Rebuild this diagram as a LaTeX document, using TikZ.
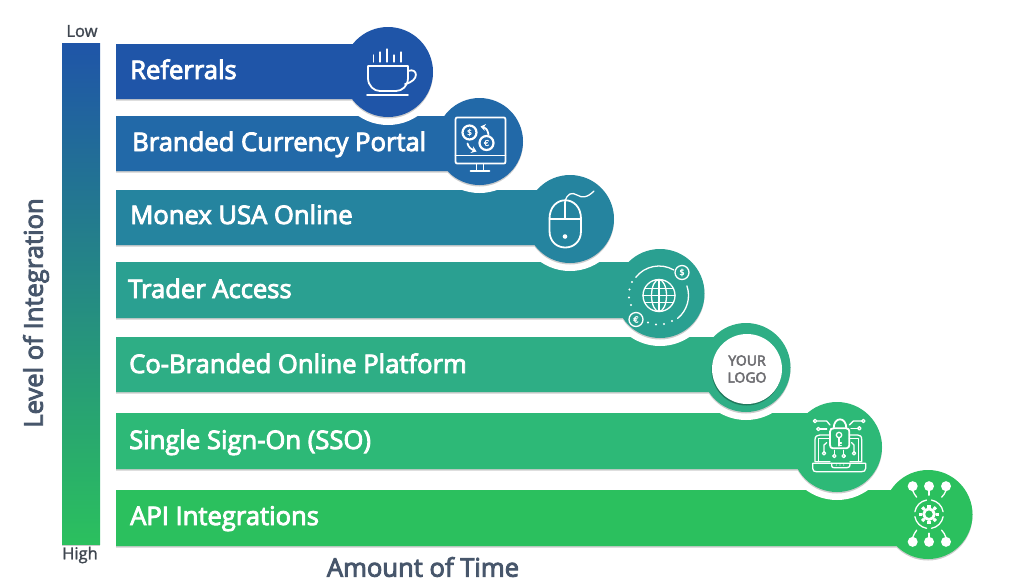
\documentclass[tikz,border=0pt]{standalone}
\usepackage{fontspec}
\setmainfont{Open Sans}
\newfontfamily\semi{Open Sans}[FakeBold=3.5]
\newfontfamily\medi{Open Sans}[FakeBold=1.5]
\newfontfamily\glyphs{DejaVu Sans}[FakeBold=2]
\usetikzlibrary{shadows,arrows.meta}
\definecolor{cA}{HTML}{1F55A8}
\definecolor{cB}{HTML}{2269A8}
\definecolor{cC}{HTML}{25849F}
\definecolor{cD}{HTML}{2AA091}
\definecolor{cE}{HTML}{2EAE85}
\definecolor{cF}{HTML}{2DB977}
\definecolor{cG}{HTML}{2BC05E}
\definecolor{axisink}{HTML}{47566B}
\definecolor{lightink}{HTML}{3F4650}
\definecolor{logoink}{HTML}{6E6E72}
\tikzset{
  softshadow/.style={drop shadow={shadow xshift=0pt,shadow yshift=-1.5pt,opacity=.2,fill=black}},
  rowlabel/.style={anchor=base west,text=white,inner sep=0pt,font=\semi\fontsize{25.6}{28}\selectfont},
  axislabel/.style={text=axisink,inner sep=0pt,font=\semi\fontsize{25.6}{28}\selectfont},
  endlabel/.style={text=lightink,inner sep=0pt,font=\medi\fontsize{16.5}{18}\selectfont},
  ico/.style={draw=white,line width=1.8pt,line cap=round,line join=round},
  icofine/.style={draw=white,line width=1.3pt,line cap=round,line join=round},
  icodot/.style={fill=white,draw=none},
  coin/.style={text=white,inner sep=0pt,font=\glyphs\fontsize{8.5}{9}\selectfont},
}
% colour, bar top, bar bottom, disc centre x, disc centre y, disc radius
\newcommand{\stepshape}[6]{%
  \fill[white] (#4,#5) circle ({#6+8});
  \fill[#1,softshadow] (#4,#2) rectangle (116,#3) (#4,#5) circle (#6);
}
\begin{document}
\begin{tikzpicture}[x=1pt,y=-1pt]
\useasboundingbox (0,0) rectangle (1024,587);

% axis bar and labels
\node[draw=none,inner sep=0pt,outer sep=0pt,anchor=north west,minimum width=38pt,minimum height=501pt,
      top color=cA,middle color=cD,bottom color=cG,shading angle=0,softshadow] (axisbar) at (62,43) {};
\node[endlabel] (low) at (82,31) {Low};
\node[endlabel] (high) at (80,555) {High};
\node[axislabel,rotate=90] (level) at (36,313) {Level of Integration};
\node[axislabel] (amount) at (423,567) {Amount of Time};

% ---- row 7
\stepshape{cG}{490}{546}{928}{514.5}{44.5}
\node[rowlabel] (t7) at (130,525) {API Integrations};
\begin{scope}[shift={(928,514.5)},scale=1/3]
  \foreach \px in {-46,3,54} \fill[icodot] (\px,-85) circle (15);
  \foreach \px in {-46,3,54} \fill[icodot] (\px,82) circle (15);
  \draw[icofine] (-46,-72) .. controls (-46,-62) and (-36,-60) .. (-34,-52);
  \draw[icofine] (3,-72) -- (3,-58);
  \draw[icofine] (54,-72) .. controls (54,-62) and (44,-60) .. (41,-52);
  \draw[icofine] (-34,47) .. controls (-36,56) and (-46,58) .. (-46,69);
  \draw[icofine] (3,56) -- (3,69);
  \draw[icofine] (41,47) .. controls (44,56) and (54,58) .. (54,69);
  \draw[icofine] (3,-1) ++(100:43) arc (100:170:43);
  \draw[icofine] (3,-1) ++(10:43) arc (10:80:43);
  \draw[icofine] (3,-1) ++(190:43) arc (190:260:43);
  \draw[icofine] (3,-1) ++(280:43) arc (280:350:43);
  \draw[draw=white,line width=2.8pt] (3,-1) circle (16);
  \foreach \a in {0,45,...,315}
    \draw[draw=white,line width=3.2pt] (3,-1) ++(\a:20) -- ++(\a:9);
\end{scope}

% ---- row 6
\stepshape{cF}{413}{469}{837}{447}{45}
\node[rowlabel] (t6) at (129,449) {Single Sign-On (SSO)};
\begin{scope}[shift={(837,447)},scale=1/3]
  % laptop
  \draw[icofine] (-21,44) -- (-66,44) -- (-66,-22) .. controls (-66,-32) and (-60,-36) .. (-52,-36) -- (-21,-36);
  \draw[icofine] (37,-36) -- (62,-36) .. controls (70,-36) and (74,-32) .. (74,-22) -- (74,44) -- (39,44);
  \draw[icofine] (-56,44) -- (-56,-26) -- (-21,-26);
  \draw[icofine] (37,-26) -- (64,-26) -- (64,44);
  \draw[icofine] (-73,49) -- (86,49) -- (86,64) .. controls (86,72) and (80,74) .. (74,74) -- (-62,74) .. controls (-68,74) and (-73,72) .. (-73,64) -- cycle;
  \draw[icofine] (-16,49) -- (-16,56) .. controls (-16,62) and (-12,62) .. (-8,62) -- (30,62) .. controls (36,62) and (39,60) .. (39,49);
  \foreach \px in {-2,9,20} \fill[icodot] (\px,54) circle (1.8);
  % lock
  \draw[ico] (-10,-56) .. controls (-10,-92) and (28,-92) .. (28,-56);
  \draw[ico] (-21,-46) .. controls (-21,-54) and (-16,-56) .. (-10,-56) -- (28,-56) .. controls (34,-56) and (37,-52) .. (37,-46) -- (37,-6) .. controls (37,-2) and (34,4) .. (28,4) -- (-12,4) .. controls (-18,4) and (-21,0) .. (-21,-6) -- cycle;
  \draw[icofine] (6,-36) circle (8);
  \draw[icofine] (6,-28) -- (6,-3) (6,-12) -- (13,-12) (6,-5) -- (13,-5);
  % circuit top
  \draw[icofine] (-66,-78) circle (5);
  \draw[icofine] (-61,-78) -- (-31,-78) -- (-21,-66);
  \draw[icofine] (-56,-54) circle (5);
  \draw[icofine] (-51,-54) -- (-31,-54);
  \draw[icofine] (79,-78) circle (5);
  \draw[icofine] (74,-78) -- (49,-78) -- (37,-66);
  \draw[icofine] (67,-56) circle (5);
  \draw[icofine] (62,-56) -- (42,-56);
  % circuit bottom
  \foreach \px/\py in {-39/19,-8/27,20/27,51/19} \draw[icofine] (\px,\py) circle (5);
  \draw[icofine] (-39,14) -- (-39,-6) -- (-31,-13);
  \draw[icofine] (-8,22) -- (-8,10);
  \draw[icofine] (20,22) -- (20,10);
  \draw[icofine] (51,14) -- (51,-6) -- (44,-13);
\end{scope}

% ---- row 5
\stepshape{cE}{337}{392}{746}{367.5}{44.5}
\node[circle,fill=white,draw=none,inner sep=0pt,minimum size=70pt,drop shadow={shadow xshift=-.5pt,shadow yshift=-1.5pt,opacity=.3,fill=black},
      align=center,text=logoink,font=\semi\fontsize{14}{17}\selectfont] (logo) at (747,369) {YOUR\\LOGO};
\node[rowlabel] (t5) at (129,373) {Co-Branded Online Platform};

% ---- row 4
\stepshape{cD}{262}{318}{660}{293.5}{44.5}
\node[rowlabel] (t4) at (128,298) {Trader Access};
\begin{scope}[shift={(659,295.5)}]
  \draw[icofine] (0,0) circle (16);
  \draw[icofine] (0,0) ellipse (7.5 and 16);
  \draw[icofine] (-16,0) -- (16,0) (0,-16) -- (0,16);
  \draw[icofine] (-14.5,-7) -- (14.5,-7) (-14.5,7) -- (14.5,7);
  \draw[icofine] (0,0) ++(218:29.5) arc (218:300:29.5);
  \draw[icofine] (0,0) ++(341:29.5) arc (341:411:29.5);
  \draw[icofine] (23,-23) circle (7);
  \draw[icofine] (-23,24) circle (7);
  \node[coin] (sgn) at (23,-23) {\$};
  \node[coin] (eur) at (-23,24) {€};
  \foreach \px/\py in {-27/-13.5, -29.5/-6, -30/2, -28/9.5, -11/27, -3/29, 5/28.5, 13/25.5}
    \fill[icodot] (\px,\py) circle (1.2);
\end{scope}

% ---- row 3
\stepshape{cC}{190}{245}{570}{219}{44}
\node[rowlabel] (t3) at (130,224) {Monex USA Online};
\begin{scope}[shift={(570,219)}]
  \draw[ico] (-20.5,0) .. controls (-20.5,-25) and (11,-25) .. (11,0) -- (11,12) .. controls (11,34) and (-20.5,34) .. (-20.5,12) -- cycle;
  \draw[ico] (-20.5,0) -- (11,0);
  \draw[icofine,line width=1.3pt] (-5,-17) -- (-5,0);
  \draw[icofine,line width=1.3pt] (-5,-17) .. controls (-3,-26) and (2,-27) .. (7,-24) .. controls (12,-21) and (17,-21) .. (24,-28);
  \fill[icodot] (-5,17.5) circle (2.3);
\end{scope}

% ---- row 2
\stepshape{cB}{116}{171}{479.5}{141.5}{43.5}
\node[rowlabel] (t2) at (132,151) {Branded Currency Portal};
\begin{scope}[shift={(479.5,141.5)}]
  \draw[ico] (-24,-22) .. controls (-24,-24) and (-23,-24) .. (-22,-24) -- (24,-24) .. controls (25,-24) and (26,-24) .. (26,-22) -- (26,20) .. controls (26,22) and (25,22) .. (24,22) -- (-22,22) .. controls (-23,22) and (-24,22) .. (-24,20) -- cycle;
  \draw[ico] (-24,14) -- (26,14);
  \draw[icofine] (-3,22) -- (-3,29) (4,22) -- (4,29);
  \draw[ico] (-9,29.5) -- (10,29.5);
  \draw[ico,line width=2.2pt] (-10,-9) circle (7);
  \draw[ico,line width=2.2pt] (7,1.5) circle (7);
  \node[coin,font=\glyphs\fontsize{8}{8}\selectfont] (dol) at (-10,-9) {\$};
  \node[coin,font=\glyphs\fontsize{8}{8}\selectfont] (euro) at (7,1.5) {€};
  \draw[ico,-{Stealth[length=5pt,width=7pt]}] (9,-7) .. controls (8,-12) and (6,-14) .. (1,-15);
  \draw[ico,-{Stealth[length=5pt,width=7pt]}] (-12,2) .. controls (-11,6) and (-8,8) .. (-3,10);
\end{scope}

% ---- row 1
\stepshape{cA}{44}{99}{388}{72}{45}
\node[rowlabel] (t1) at (130,79) {Referrals};
\begin{scope}[shift={(388,72)}]
  \draw[ico] (-20,-6) -- (20,-6) -- (20,6) .. controls (20,14) and (14,19) .. (8,19) -- (-8,19) .. controls (-14,19) and (-20,14) .. (-20,6) -- cycle;
  \draw[ico] (20,-1) .. controls (30,-5) and (32,9) .. (17,12);
  \draw[ico] (-21,23) -- (20,23);
  \foreach \px/\pa/\pb in {-14.5/-17/-10, -8/-20/-10, -1/-23/-10, 6/-17/-10, 13/-20/-10}
    \draw[icofine] (\px,\pa) -- (\px,\pb);
\end{scope}
\end{tikzpicture}
\end{document}
